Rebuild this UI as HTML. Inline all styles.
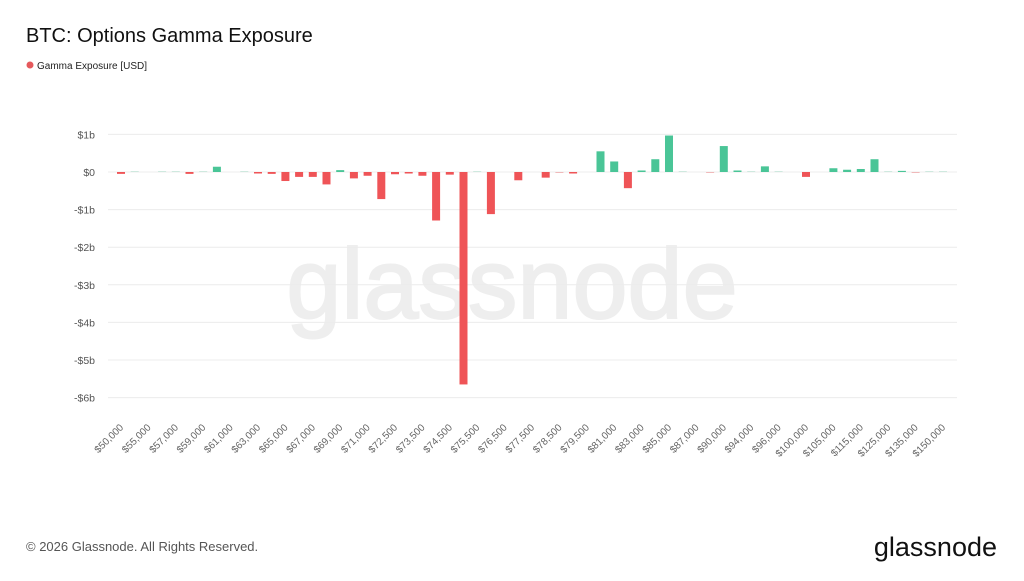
<!DOCTYPE html>
<html><head><meta charset="utf-8"><style>
html,body{margin:0;padding:0;background:#fff;}
body{width:1024px;height:576px;overflow:hidden;font-family:"Liberation Sans",sans-serif;}
</style></head><body>
<svg id="s" width="1024" height="576" xmlns="http://www.w3.org/2000/svg" font-family="Liberation Sans, sans-serif">
<text x="26" y="42" font-size="20" fill="#111">BTC: Options Gamma Exposure</text>
<circle cx="30" cy="65" r="3.5" fill="#e5595c"/>
<text x="37" y="69" font-size="10" fill="#222">Gamma Exposure [USD]</text>
<text x="512" y="318" font-size="99" fill="#eeeeee" text-anchor="middle" stroke="#eeeeee" stroke-width="2">glassnode</text>
<g id="grid"></g>
<g id="bars"></g>
<g id="xl"></g>
<text x="26" y="551" font-size="13" fill="#555">© 2026 Glassnode. All Rights Reserved.</text>
<text x="997" y="556" font-size="27" fill="#111" text-anchor="end">glassnode</text>
</svg>
<script>
var NS="http://www.w3.org/2000/svg";
function el(t,a,txt){var e=document.createElementNS(NS,t);for(var k in a)e.setAttribute(k,a[k]);if(txt!=null)e.textContent=txt;return e;}
var zero=172, pb=37.6;
var g=document.getElementById("grid");
var yl=["$1b","$0","-$1b","-$2b","-$3b","-$4b","-$5b","-$6b"];
for(var i=0;i<8;i++){var y=zero-pb+i*pb;
g.appendChild(el("line",{x1:108,x2:957,y1:y,y2:y,stroke:"#ececec","stroke-width":1}));
g.appendChild(el("text",{x:95,y:y+4,"font-size":10.5,fill:"#555","text-anchor":"end"},yl[i]));}
var v=[-0.05,0.01,0,0.01,0.01,-0.05,0.01,0.14,0,0.01,-0.04,-0.05,-0.24,-0.13,-0.13,-0.33,0.05,-0.17,-0.1,-0.72,-0.06,-0.04,-0.1,-1.29,-0.07,-5.65,0.01,-1.12,0,-0.22,
0,-0.15,-0.02,-0.04,0,0.55,0.28,-0.43,0.04,0.34,0.97,0.01,0,-0.01,0.69,0.04,0.02,0.15,0.01,0,-0.13,0,0.1,0.06,0.08,0.34,0.01,0.03,-0.02,0.01,0.01];
var b=document.getElementById("bars");
for(var i=0;i<v.length;i++){var cx=121+i*13.7,h=Math.abs(v[i])*pb;if(h<1)h=1;
var small=Math.abs(v[i])<0.03;
var col=v[i]>=0?(small?"#cfe9df":"#4ac597"):(small?"#f0b9ba":"#ef5457");
if(v[i]==0)continue;
b.appendChild(el("rect",{x:cx-4,y:v[i]>=0?zero-h:zero,width:8,height:h,fill:col}));}
var L=["$50,000","$55,000","$57,000","$59,000","$61,000","$63,000","$65,000","$67,000","$69,000","$71,000","$72,500","$73,500","$74,500","$75,500","$76,500","$77,500","$78,500","$79,500","$81,000","$83,000","$85,000","$87,000","$90,000","$94,000","$96,000","$100,000","$105,000","$115,000","$125,000","$135,000","$150,000"];
var xl=document.getElementById("xl");
for(var k=0;k<L.length;k++){var x=121+k*27.4+3,y=428;
xl.appendChild(el("text",{x:x,y:y,"font-size":10,fill:"#666","text-anchor":"end",transform:"rotate(-45 "+x+" "+y+")"},L[k]));}
</script>
</body></html>
